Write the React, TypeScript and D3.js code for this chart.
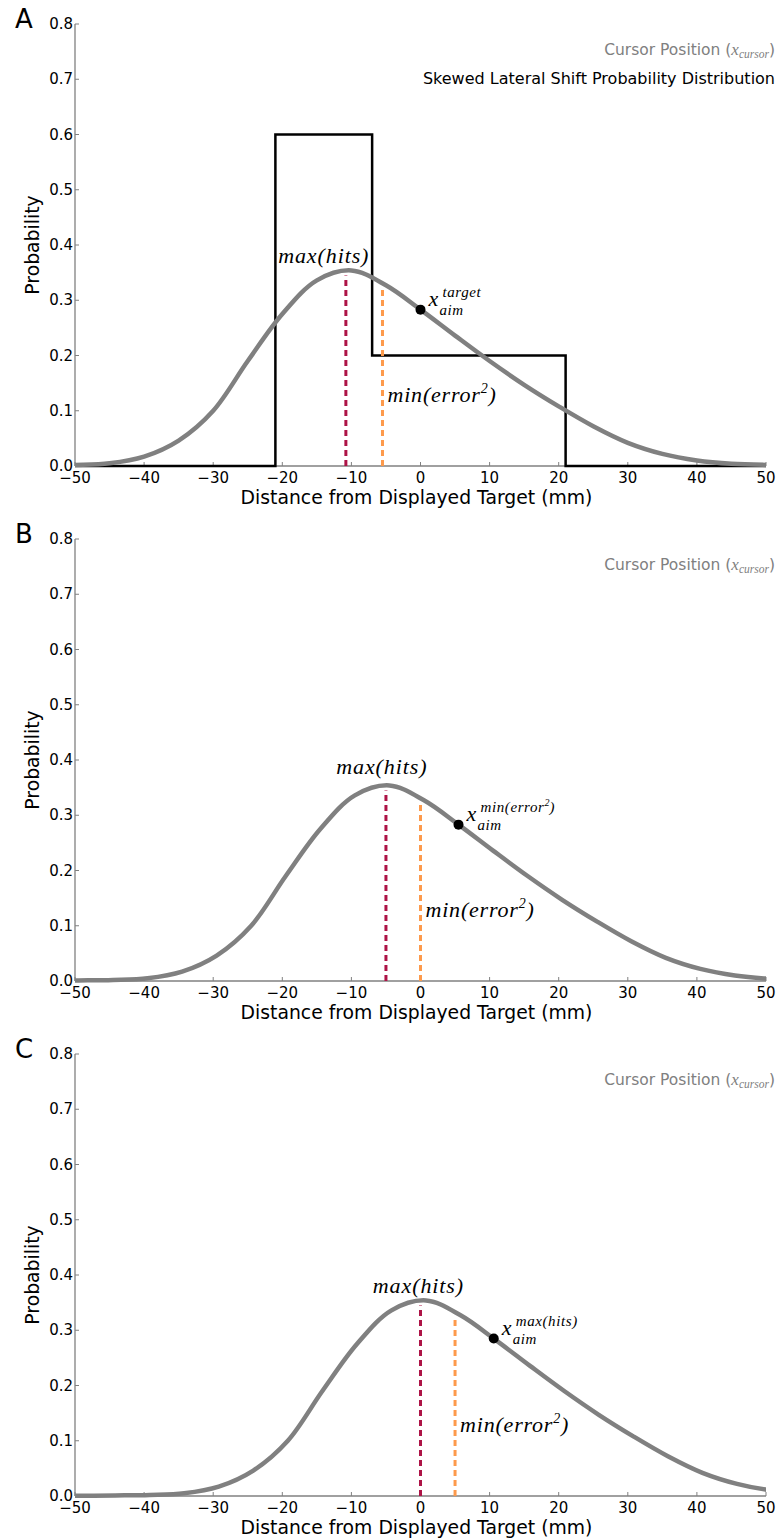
import React from 'react';
import * as d3 from 'd3';

const width = 780;
const height = 1538;
const panelStep = 515;
const margin = {top: 24, right: 14, left: 75};
const plotBottom = 466;
const grey = '#808080';
const red = '#ad1346';
const orange = '#fd9a4c';
const sans = '"DejaVu Sans", sans-serif';
const serif = '"Liberation Serif", "DejaVu Serif", serif';

// skewed lateral shift curve (mm, probability)
const curveX = [-65, -60, -55, -50, -45, -40, -35, -30, -25, -20, -15, -10, -5, 0, 5, 10, 15, 20, 25, 30, 35, 40, 45, 50];
const curveP = [0, 0.0003, 0.001, 0.002, 0.005, 0.017, 0.046, 0.1, 0.19, 0.275, 0.336, 0.354, 0.327, 0.283, 0.236, 0.19, 0.147, 0.108, 0.072, 0.042, 0.022, 0.01, 0.004, 0.002];

// step distribution (panel A only)
const stepX = [-50, -21, -7, 21, 50];
const stepP = [0, 0.6, 0.2, 0, 0];

// per panel
const panelNames = ['A', 'B', 'C'];
const curveShift = [0, 5.5, 10.8];
const maxHitsX = [-10.8, -5, 0];
const minErrX = [-5.5, 0, 5];
const aimX = [0, 5.5, 10.6];
const aimP = [0.283, 0.283, 0.285];
const aimSup = ['target', 'min(error', 'max(hits)'];
const maxLabelX = [-14, -5.6, -0.3];
const maxLabelP = [0.367, 0.374, 0.368];

const xTicks = [-50, -40, -30, -20, -10, 0, 10, 20, 30, 40, 50];
const yTicks = [0, 0.1, 0.2, 0.3, 0.4, 0.5, 0.6, 0.7, 0.8];

const xScale = d3.scaleLinear().domain([-50, 50]).range([margin.left, width - margin.right]);
const yScale = d3.scaleLinear().domain([0, 0.8]).range([plotBottom, margin.top]);

const Panel: React.FC<{i: number}> = ({i}) => {
  const pts = curveX.map((x, k) => [x + curveShift[i], curveP[k]] as [number, number]);
  const curvePath = d3.line<[number, number]>()
    .x(d => xScale(d[0]))
    .y(d => yScale(d[1]))
    .curve(d3.curveCatmullRom.alpha(0.5))(pts) || '';
  const stepPath = d3.line<number>()
    .x(d => xScale(d))
    .y((d, k) => yScale(stepP[k]))
    .curve(d3.curveStepAfter)(stepX) || '';
  const fmt = d3.format('.1f');
  const mx = xScale(aimX[i]);
  const my = yScale(aimP[i]);
  const clipId = `clip${i}`;

  return (
    <g transform={`translate(0, ${i * panelStep})`}>
      <clipPath id={clipId}>
        <rect x={margin.left} y={0} width={width - margin.right - margin.left} height={plotBottom + 10} />
      </clipPath>

      <text x={15} y={28} fontFamily={sans} fontSize={26}>{panelNames[i]}</text>

      {/* axes */}
      <line x1={margin.left} x2={margin.left} y1={margin.top} y2={plotBottom} stroke={grey} strokeWidth={1.3} />
      <line x1={margin.left} x2={width - margin.right} y1={plotBottom} y2={plotBottom} stroke={grey} strokeWidth={1.3} />
      {yTicks.map(t => (
        <g key={t}>
          <line x1={margin.left} x2={margin.left + 4} y1={yScale(t)} y2={yScale(t)} stroke={grey} />
          <text x={margin.left - 2} y={yScale(t) + 5} textAnchor="end" fontFamily={sans} fontSize={15}>{fmt(t)}</text>
        </g>
      ))}
      {xTicks.map(t => (
        <g key={t}>
          <line x1={xScale(t)} x2={xScale(t)} y1={plotBottom} y2={plotBottom - 4} stroke={grey} />
          <text x={xScale(t)} y={plotBottom + 17} textAnchor="middle" fontFamily={sans} fontSize={15}>{d3.format('d')(t)}</text>
        </g>
      ))}
      <text x={(margin.left + width - margin.right) / 2 - 4} y={plotBottom + 38} textAnchor="middle" fontFamily={sans} fontSize={18.8}>
        Distance from Displayed Target (mm)
      </text>
      <text transform={`translate(39, ${(margin.top + plotBottom) / 2}) rotate(-90)`} textAnchor="middle" fontFamily={sans} fontSize={18.8}>
        Probability
      </text>

      {/* legend */}
      <text x={775} y={55} textAnchor="end" fontFamily={sans} fontSize={15.5} fill={grey}>
        Cursor Position (<tspan fontFamily={serif} fontStyle="italic" fontSize={17}>x</tspan>
        <tspan fontFamily={serif} fontStyle="italic" fontSize={11.5} dy={3}>cursor</tspan>
        <tspan dy={-3}>)</tspan>
      </text>
      {i === 0 && (
        <text x={775} y={84} textAnchor="end" fontFamily={sans} fontSize={16}>
          Skewed Lateral Shift Probability Distribution
        </text>
      )}

      {/* distributions */}
      {i === 0 && <path d={stepPath} fill="none" stroke="#000" strokeWidth={2.5} />}
      <path d={curvePath} fill="none" stroke={grey} strokeWidth={4.5} clipPath={`url(#${clipId})`} />

      <line x1={xScale(maxHitsX[i])} x2={xScale(maxHitsX[i])} y1={yScale(0)} y2={yScale(0.345)}
        stroke={red} strokeWidth={3} strokeDasharray="6,4" />
      <line x1={xScale(minErrX[i])} x2={xScale(minErrX[i])} y1={yScale(0)} y2={yScale(0.32)}
        stroke={orange} strokeWidth={3} strokeDasharray="6,4" />

      <text x={xScale(maxLabelX[i])} y={yScale(maxLabelP[i])} textAnchor="middle" fontFamily={serif}
        fontStyle="italic" fontSize={22} letterSpacing={0.9}>max(hits)</text>
      <text x={xScale(minErrX[i]) + 5} y={yScale(0.116)} fontFamily={serif} fontStyle="italic" fontSize={22} letterSpacing={0.8}>
        min(error<tspan fontSize={14} dy={-9}>2</tspan><tspan dy={9}>)</tspan>
      </text>

      <circle cx={mx} cy={my} r={5} fill="#000" />
      <text fontFamily={serif} fontStyle="italic">
        <tspan x={mx + 8} y={my - 4} fontSize={22}>x</tspan>
        <tspan x={mx + 19} y={my + 5} fontSize={15} letterSpacing={0.6}>aim</tspan>
        <tspan x={mx + 22} y={my - 13} fontSize={15} letterSpacing={0.6}>{aimSup[i]}</tspan>
        {i === 1 && <tspan fontSize={10} dy={-6}>2</tspan>}
        {i === 1 && <tspan fontSize={15} dy={6}>)</tspan>}
      </text>
    </g>
  );
};

const App: React.FC = () => (
  <svg width={width} height={height} style={{position: 'absolute', left: 0, top: 0, background: '#fff'}}>
    {panelNames.map((n, i) => <Panel key={n} i={i} />)}
  </svg>
);

export default App;
